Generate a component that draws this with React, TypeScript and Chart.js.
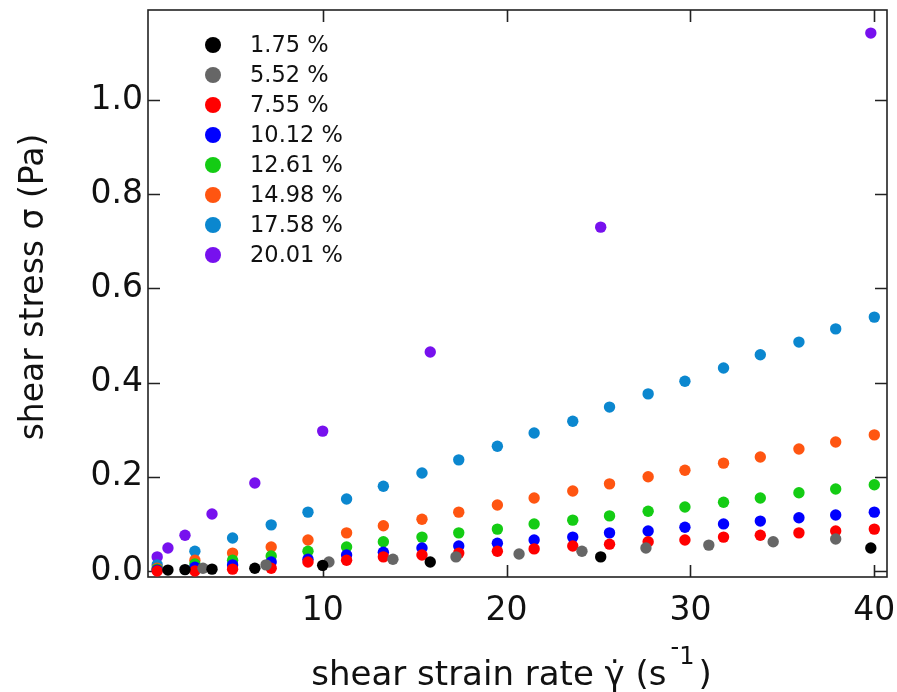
import React, { useEffect, useRef } from "react";
import { Chart, registerables } from "chart.js";

Chart.register(...registerables);

// ---- data ----
const SERIES_LABELS = ["1.75 %", "5.52 %", "7.55 %", "10.12 %", "12.61 %", "14.98 %", "17.58 %", "20.01 %"];
const SERIES_COLORS = ["#000000", "#666666", "#ff0000", "#0000ff", "#14cc14", "#ff5511", "#0b87cf", "#7711ee"];

const X_175 = [1.585, 2.512, 3.981, 6.31, 10, 15.85, 25.12, 39.81];
const X_552 = [3.49, 6.92, 10.34, 13.82, 17.25, 20.68, 24.1, 27.58, 31.0, 34.5, 37.9];
const X_LIN = [1, 3.05, 5.1, 7.2, 9.2, 11.3, 13.3, 15.4, 17.4, 19.5, 21.5, 23.6, 25.6, 27.7, 29.7, 31.8, 33.8, 35.9, 37.9, 40];
const X_2001 = [1.0, 1.585, 2.512, 3.981, 6.31, 10, 15.85, 25.12, 39.81];

const Y_175 = [0.002, 0.003, 0.004, 0.006, 0.012, 0.019, 0.030, 0.049];
const Y_552 = [0.006, 0.013, 0.019, 0.025, 0.030, 0.036, 0.042, 0.049, 0.055, 0.062, 0.068];
const Y_755 = [0.0, 0.0, 0.004, 0.006, 0.019, 0.023, 0.030, 0.034, 0.038, 0.042, 0.047, 0.053, 0.057, 0.062, 0.066, 0.072, 0.076, 0.081, 0.085, 0.089];
const Y_1012 = [0.002, 0.008, 0.013, 0.019, 0.025, 0.034, 0.040, 0.049, 0.053, 0.059, 0.066, 0.072, 0.081, 0.085, 0.093, 0.100, 0.106, 0.113, 0.119, 0.125];
const Y_1261 = [0.004, 0.015, 0.023, 0.032, 0.042, 0.051, 0.062, 0.072, 0.081, 0.089, 0.100, 0.108, 0.117, 0.127, 0.136, 0.146, 0.155, 0.166, 0.174, 0.183];
const Y_1498 = [0.006, 0.023, 0.038, 0.051, 0.066, 0.081, 0.096, 0.110, 0.125, 0.140, 0.155, 0.170, 0.185, 0.200, 0.214, 0.229, 0.242, 0.259, 0.274, 0.289];
const Y_1758 = [0.013, 0.042, 0.070, 0.098, 0.125, 0.153, 0.180, 0.208, 0.236, 0.265, 0.293, 0.318, 0.348, 0.376, 0.403, 0.431, 0.459, 0.486, 0.514, 0.539];
const Y_2001 = [0.030, 0.049, 0.076, 0.121, 0.187, 0.297, 0.465, 0.730, 1.142];

const SERIES_X = [X_175, X_552, X_LIN, X_LIN, X_LIN, X_LIN, X_LIN, X_2001];
const SERIES_Y = [Y_175, Y_552, Y_755, Y_1012, Y_1261, Y_1498, Y_1758, Y_2001];

const X_TICKS = [10, 20, 30, 40];
const X_TICK_LABELS = ["10", "20", "30", "40"];
const Y_TICKS = [0, 0.2, 0.4, 0.6, 0.8, 1.0];
const Y_TICK_LABELS = ["0.0", "0.2", "0.4", "0.6", "0.8", "1.0"];
const X_MIN = 0.5;
const X_MAX = 40.69;
const Y_MIN = -0.0127;
const Y_MAX = 1.191;

const Y_TITLE = "shear stress σ (Pa)";
const X_TITLE_MAIN = "shear strain rate \u03B3\u0307 (s";
const X_TITLE_SUP = "1";
const X_TITLE_END = ")";

const FONT = "'DejaVu Sans', Verdana, sans-serif";

const decorPlugin = {
  id: "decor",
  beforeDatasetsDraw(chart: any) {
    const { ctx, chartArea: a, scales } = chart;
    ctx.save();
    ctx.strokeStyle = "#222";
    ctx.lineWidth = 1.6;
    ctx.strokeRect(a.left, a.top, a.right - a.left, a.bottom - a.top);
    const L = 12;
    ctx.beginPath();
    for (const v of X_TICKS) {
      const px = Math.round(scales.x.getPixelForValue(v)) + 0.5;
      ctx.moveTo(px, a.bottom);
      ctx.lineTo(px, a.bottom - L);
      ctx.moveTo(px, a.top);
      ctx.lineTo(px, a.top + L);
    }
    for (const v of Y_TICKS) {
      const py = Math.round(scales.y.getPixelForValue(v)) + 0.5;
      ctx.moveTo(a.left, py);
      ctx.lineTo(a.left + L, py);
      ctx.moveTo(a.right, py);
      ctx.lineTo(a.right - L, py);
    }
    ctx.stroke();
    ctx.restore();
  },
  afterDraw(chart: any) {
    const { ctx, chartArea: a, scales } = chart;
    ctx.save();
    // x tick labels
    ctx.fillStyle = "#111";
    ctx.font = `33px ${FONT}`;
    ctx.textAlign = "center";
    ctx.textBaseline = "middle";
    X_TICKS.forEach((v, i) => {
      ctx.fillText(X_TICK_LABELS[i], scales.x.getPixelForValue(v), a.bottom + 34);
    });
    // legend
    ctx.font = `22.5px ${FONT}`;
    ctx.textBaseline = "middle";
    ctx.textAlign = "left";
    chart.data.datasets.forEach((ds: any, i: number) => {
      const y = 45 + 30 * i;
      ctx.fillStyle = ds.backgroundColor;
      ctx.beginPath();
      ctx.arc(213, y, 8, 0, Math.PI * 2);
      ctx.fill();
      ctx.fillStyle = "#111";
      ctx.fillText(ds.label, 250, y + 1);
    });
    // y title
    ctx.fillStyle = "#111";
    ctx.font = `33px ${FONT}`;
    ctx.save();
    ctx.translate(43, 287);
    ctx.rotate(-Math.PI / 2);
    ctx.textAlign = "center";
    ctx.textBaseline = "alphabetic";
    ctx.fillText(Y_TITLE, 0, 0);
    ctx.restore();
    // x title with superscript
    ctx.textBaseline = "alphabetic";
    ctx.textAlign = "left";
    ctx.font = `34px ${FONT}`;
    const wMain = ctx.measureText(X_TITLE_MAIN).width;
    const wEnd = ctx.measureText(X_TITLE_END).width;
    ctx.font = `24px ${FONT}`;
    const wDash = ctx.measureText("-").width;
    const wSup = ctx.measureText(X_TITLE_SUP).width;
    const total = wMain + 4 + wDash + wSup + 4 + wEnd;
    const cx = (a.left + a.right) / 2 - 6;
    let x = cx - total / 2;
    const base = 685;
    ctx.font = `34px ${FONT}`;
    ctx.fillText(X_TITLE_MAIN, x, base);
    x += wMain + 4;
    ctx.font = `24px ${FONT}`;
    ctx.fillText("-", x, base - 30);
    x += wDash;
    ctx.fillText(X_TITLE_SUP, x, base - 21);
    x += wSup + 4;
    ctx.font = `34px ${FONT}`;
    ctx.fillText(X_TITLE_END, x, base);
    ctx.restore();
  },
};

export default function App() {
  const canvasRef = useRef<HTMLCanvasElement | null>(null);

  useEffect(() => {
    if (!canvasRef.current) return;
    const datasets = SERIES_LABELS.map((label, i) => ({
      label,
      data: SERIES_X[i].map((x, j) => ({ x, y: SERIES_Y[i][j] })),
      backgroundColor: SERIES_COLORS[i],
      borderColor: SERIES_COLORS[i],
      pointRadius: 5.7,
      pointHoverRadius: 5.7,
      pointBorderWidth: 0,
      showLine: false,
    }));
    const tickFont = { family: FONT, size: 33 };
    const chart = new Chart(canvasRef.current, {
      type: "scatter",
      data: { datasets },
      options: {
        animation: false,
        responsive: true,
        maintainAspectRatio: false,
        devicePixelRatio: 1,
        events: [],
        layout: { autoPadding: false, padding: { top: 10, right: 10, left: 0, bottom: 0 } },
        plugins: { legend: { display: false }, tooltip: { enabled: false }, title: { display: false } },
        scales: {
          x: {
            type: "linear",
            min: X_MIN,
            max: X_MAX,
            grid: { display: false, drawTicks: false },
            border: { display: false },
            ticks: {
              display: false,
              font: tickFont,
              maxRotation: 0,
              autoSkip: false,
            },
            afterBuildTicks: (s: any) => {
              s.ticks = X_TICKS.map((v) => ({ value: v }));
            },
            afterFit: (s: any) => {
              s.height = 115;
              s.paddingLeft = 0;
              s.paddingRight = 0;
              s.paddingTop = 0;
              s.paddingBottom = 0;
            },
          },
          y: {
            type: "linear",
            min: Y_MIN,
            max: Y_MAX,
            grid: { display: false, drawTicks: false },
            border: { display: false },
            ticks: {
              font: tickFont,
              color: "#111",
              padding: 5,
              autoSkip: false,
              callback: (_v: any, i: number) => Y_TICK_LABELS[i],
            },
            afterBuildTicks: (s: any) => {
              s.ticks = Y_TICKS.map((v) => ({ value: v }));
            },
            afterFit: (s: any) => {
              s.width = 148;
              s.paddingLeft = 0;
              s.paddingRight = 0;
              s.paddingTop = 0;
              s.paddingBottom = 0;
            },
          },
        },
      },
      plugins: [decorPlugin],
    } as any);
    return () => chart.destroy();
  }, []);

  return (
    <div style={{ position: "absolute", left: 0, top: 0, width: 897, height: 692 }}>
      <canvas ref={canvasRef} />
    </div>
  );
}
